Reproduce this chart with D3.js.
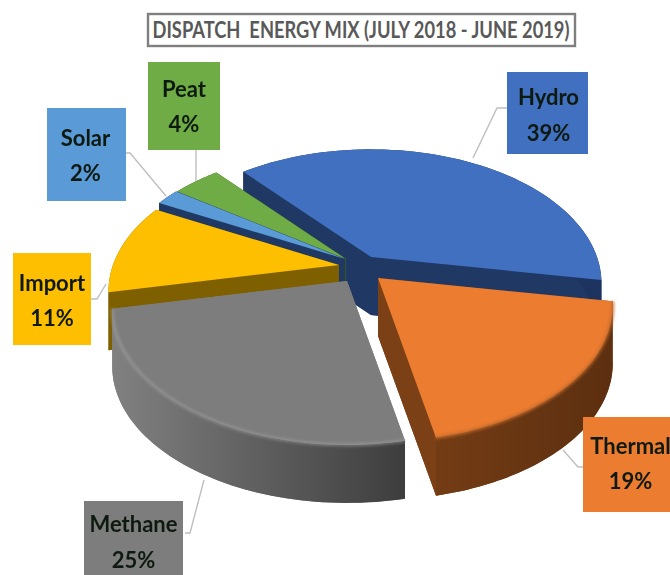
<!DOCTYPE html>
<html><head><meta charset="utf-8">
<script src="https://cdnjs.cloudflare.com/ajax/libs/d3/7.8.5/d3.min.js"></script>
<style>
html,body{margin:0;padding:0;background:#fff;overflow:hidden}
svg{display:block;filter:blur(0.6px)}
text{font-family:Lato,"Open Sans",sans-serif}
</style></head><body>
<svg id="c" width="670" height="575"></svg>
<script>
// ---- data ----
const categories = ["Hydro","Thermal","Methane","Import","Solar","Peat"];
const shares = [39,19,25,11,2,4];
const titleText = "DISPATCH  ENERGY MIX (JULY 2018 - JUNE 2019)";

// ---- styles ----
const topColors  = ["#4170c0","#ec7c30","#7d7d7d","#fdbf00","#5a9ad6","#6fac46"];
const wallLight  = ["#1f3864","#7b4016","#808080","#7f6000","#1f3864","#375623"];
const wallDark   = ["#1c3360","#5c2f10","#3e3e3e","#7f6000","#1f3864","#375623"];
const labelBoxes = [[507,72,81,82],[583,417,87,95],[84,501,99,74],[13,253,78,92],[47,108,79,93],[148,62,72,88]];
const labelNudge = [[1,-1],[4,-4],[0,1],[0,-1.5],[-1,-2],[0,-2.5]];
const explode    = [[26,-5],[33,16],[2,19],[-6,3],[0,-3],[1,-3]];
const radii      = [226,230,230,226,230,230];
const leaders    = [
  [[507,108],[497,108],[473,158]],
  [[583,467],[578,467],[563,450]],
  [[185,533],[190,533],[204,480]],
  [[91,299],[97,299],[106,284]],
  [[126,153],[130,153],[166,196]],
  [[196,150],[196,181]]
];
const drawOrder = [0,5,4,3,2,1];

// ---- geometry: a tilted disc seen in perspective ----
const cx = 345, cy = 262, squash = 0.57, persp = 0.00087, depth = 58;
const startAngle = -40.5 * Math.PI / 180;
const arcs = d3.pie().sort(null).value(d => d)
  .startAngle(startAngle).endAngle(startAngle + 2 * Math.PI)(shares);
function project(i, r, a, drop) {
  const X = r * Math.sin(a), Y = -r * Math.cos(a), w = 1 - Y * persp;
  return [cx + explode[i][0] + X / w, cy + explode[i][1] + Y * squash / w + (drop || 0)];
}
const line = d3.line();
const samples = (a0, a1) => d3.range(0, 61).map(d3.scaleLinear([0, 60], [a0, a1]));

const svg = d3.select("#c");
const defs = svg.append("defs");
defs.append("filter").attr("id","soft").append("feGaussianBlur").attr("stdDeviation",1.6);
categories.forEach((c, i) => {
  const g = defs.append("linearGradient").attr("id","wall"+i).attr("gradientUnits","userSpaceOnUse")
    .attr("x1",i === 2 ? 115 : 380).attr("x2",i === 2 ? 402 : 615).attr("y1",0).attr("y2",0);
  g.append("stop").attr("offset",0).attr("stop-color",wallLight[i]);
  g.append("stop").attr("offset",1).attr("stop-color",wallDark[i]);
});

// ---- title ----
const tg = svg.append("g");
tg.append("rect").attr("x",148).attr("y",14).attr("width",427).attr("height",32)
  .attr("fill","#fff").attr("stroke","#7f7f7f").attr("stroke-width",2.4);
tg.append("text").attr("x",361).attr("y",37.5).attr("text-anchor","middle")
  .attr("font-size",22).attr("font-weight",700).attr("fill","#595959")
  .attr("xml:space","preserve").style("white-space","pre")
  .attr("textLength",417).attr("lengthAdjust","spacingAndGlyphs").text(titleText);

// ---- leader lines ----
svg.append("g").selectAll("path").data(leaders).join("path")
  .attr("d", d => line(d)).attr("fill","none").attr("stroke","#bfbfbf").attr("stroke-width",1.4);

// ---- slices ----
const sg = svg.append("g");
drawOrder.forEach(i => {
  const a = arcs[i], pts = samples(a.startAngle, a.endAngle), R = radii[i];
  const g = sg.append("g");
  const apex = project(i, 0, 0), apexB = project(i, 0, 0, depth);
  const topRing = pts.map(t => project(i, R, t));
  const botRing = pts.map(t => project(i, R, t, depth));
  // bottom face and radial walls
  g.append("path").attr("d", line([apexB, ...botRing]) + "Z").attr("fill", wallLight[i]);
  [a.startAngle, a.endAngle].forEach(t => {
    g.append("path").attr("d", line([apex, project(i,R,t), project(i,R,t,depth), apexB]) + "Z")
      .attr("fill", wallLight[i]);
  });
  // outer wall
  g.append("path").attr("d", line([...topRing, ...botRing.slice().reverse()]) + "Z")
    .attr("fill", `url(#wall${i})`);
  // top face
  g.append("path").attr("d", line([apex, ...topRing]) + "Z").attr("fill", topColors[i]);
  // soft rim
  const rim = pts.filter(t => -Math.cos(t) > 0.05);
  if (i === 1 || i === 2) {
    g.append("path").attr("d", line(rim.map(t => project(i, R, t))))
      .attr("fill","none").attr("filter","url(#soft)").attr("stroke-opacity", i === 2 ? 0.6 : 1)
      .attr("stroke", i === 2 ? "#a6a6a6" : "#c0692a").attr("stroke-width",2.6);
  }
});

// ---- label boxes ----
const lg = svg.append("g").selectAll("g").data(categories).join("g");
lg.append("rect")
  .attr("x",(d,i)=>labelBoxes[i][0]).attr("y",(d,i)=>labelBoxes[i][1])
  .attr("width",(d,i)=>labelBoxes[i][2]).attr("height",(d,i)=>labelBoxes[i][3])
  .attr("fill",(d,i)=>topColors[i]);
lg.append("text").attr("text-anchor","middle").attr("font-size",22).attr("font-weight",700).attr("fill","#0e1a10")
  .attr("x",(d,i)=>labelBoxes[i][0]+labelBoxes[i][2]/2+labelNudge[i][0])
  .attr("y",(d,i)=>labelBoxes[i][1]+labelBoxes[i][3]/2-7+labelNudge[i][1])
  .text(d=>d);
lg.append("text").attr("text-anchor","middle").attr("font-size",22).attr("font-weight",700).attr("fill","#0e1a10")
  .attr("x",(d,i)=>labelBoxes[i][0]+labelBoxes[i][2]/2+labelNudge[i][0])
  .attr("y",(d,i)=>labelBoxes[i][1]+labelBoxes[i][3]/2+28.5+labelNudge[i][1])
  .text((d,i)=>shares[i]+"%");
</script>
</body></html>
